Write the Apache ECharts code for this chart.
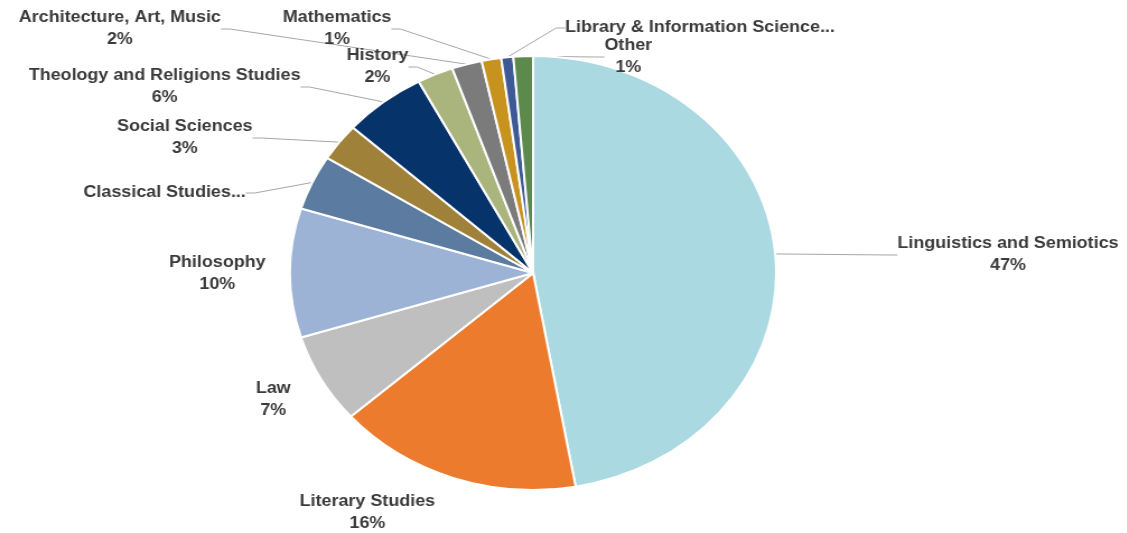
<!DOCTYPE html>
<html>
<head>
<meta charset="utf-8">
<script src="https://cdn.jsdelivr.net/npm/echarts@6/dist/echarts.min.js"></script>
<style>
  html, body { margin: 0; padding: 0; background: #fff; overflow: hidden; }
  /* source picture is stretched horizontally, so the pie is drawn narrower and widened */
  #main { width: 1006px; height: 533px; transform: scaleX(1.12); transform-origin: 0 0; }
</style>
</head>
<body>
<div id="main"></div>
<script>
// subjects, clockwise from 12 o'clock
var subjects = [
  "Linguistics and Semiotics", "Literary Studies", "Law", "Philosophy",
  "Classical Studies...", "Social Sciences", "Theology and Religions Studies",
  "History", "Architecture, Art, Music", "Mathematics",
  "Library & Information Science...", "Other"
];
var shares = [47.2, 16.3, 6.7, 9.6, 4.1, 2.8, 5.5, 2.4, 2.0, 1.3, 0.8, 1.3];
var hidePct = ["Classical Studies...", "Library & Information Science..."];
var noLine = ["Literary Studies", "Law", "Philosophy"];

var colors = ["#aad9e1", "#ed7b2e", "#bfbfbf", "#9db3d5", "#5c7ba0", "#a08139",
  "#05336a", "#a9b57c", "#7b7b7b", "#c8921f", "#3e5a96", "#5b8a4c"];

// where excel put the labels (unscaled px)
var labelPos = [
  [900, 255], [328, 513], [244, 400], [194, 274], [147, 193], [165, 138],
  [147, 87], [337, 67], [107, 29], [301, 29], [625, 28], [561, 57]
];

var chart = echarts.init(document.getElementById("main"));

var data = subjects.map(function (s, i) {
  return {
    name: s,
    value: shares[i],
    itemStyle: { color: colors[i] },
    labelLine: { show: noLine.indexOf(s) < 0 }
  };
});

var option = {
  animation: false,
  series: [
    {
      type: "pie",
      center: [476, 273],
      radius: [0, 217],
      startAngle: 90,
      clockwise: true,
      data: data,
      itemStyle: { borderColor: "#fff", borderWidth: 2 },
      label: {
        show: true,
        color: "#3a3a3a",
        fontFamily: "Liberation Sans",
        fontWeight: "bold",
        fontSize: 16,
        lineHeight: 22,
        align: "center",
        overflow: "none",
        formatter: function (p) {
          if (hidePct.indexOf(p.name) >= 0) return p.name;
          return p.name + "\n" + Math.round(p.percent) + "%";
        }
      },
      labelLine: {
        show: true,
        length: 8,
        length2: 8,
        lineStyle: { color: "#a6a6a6", width: 1 }
      },
      labelLayout: function (params) {
        var pos = labelPos[params.dataIndex];
        return { x: pos[0], y: pos[1], align: "center", verticalAlign: "middle" };
      }
    }
  ]
};

chart.setOption(option);
</script>
</body>
</html>
